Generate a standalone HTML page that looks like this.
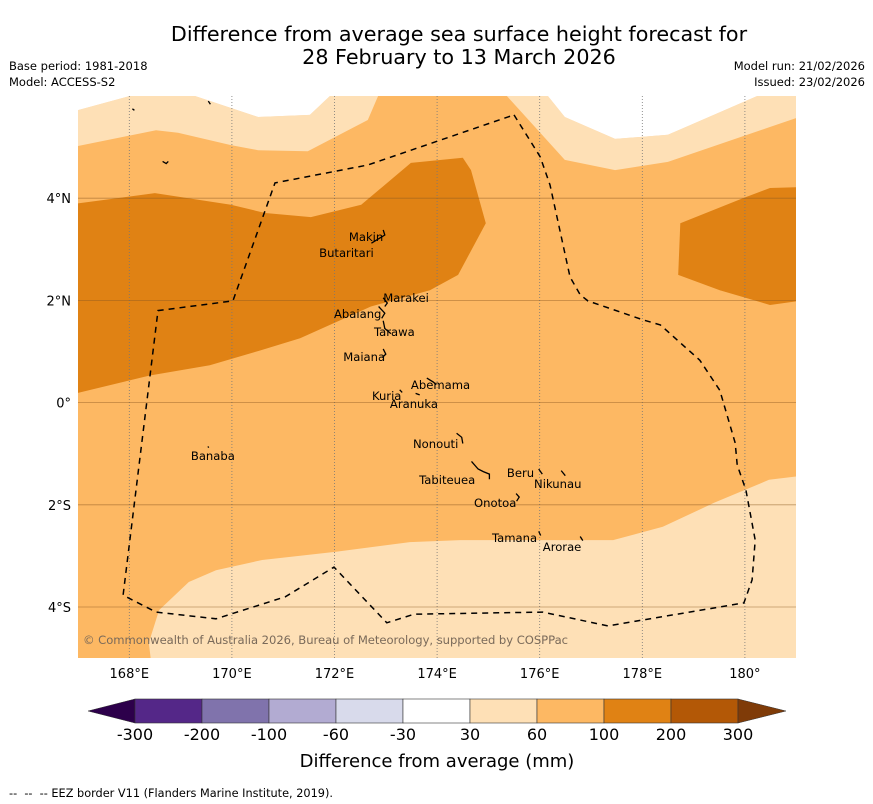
<!DOCTYPE html>
<html><head><meta charset="utf-8"><style>
body{margin:0;background:#fff;font-family:"Liberation Sans","DejaVu Sans",sans-serif}
svg{display:block}
</style></head><body>
<svg id="s" width="873" height="804" xmlns="http://www.w3.org/2000/svg" font-family="DejaVu Sans, Liberation Sans, sans-serif">
<defs><clipPath id="mc"><rect x="78" y="96" width="718" height="562"/></clipPath></defs>
<text x="459" y="41" text-anchor="middle" font-size="20.7">Difference from average sea surface height forecast for</text>
<text x="459" y="64" text-anchor="middle" font-size="20.7">28 February to 13 March 2026</text>
<text x="9" y="70" font-size="11.5">Base period: 1981-2018</text>
<text x="9" y="86" font-size="11.5">Model: ACCESS-S2</text>
<text x="865" y="70" text-anchor="end" font-size="11.5">Model run: 21/02/2026</text>
<text x="865" y="86" text-anchor="end" font-size="11.5">Issued: 23/02/2026</text>
<g id="map" clip-path="url(#mc)"></g>
<g id="axes"></g>
<g id="cbar"></g>
<text x="437" y="767" text-anchor="middle" font-size="18">Difference from average (mm)</text>
<text x="9" y="797" font-size="11.3" xml:space="preserve" style="white-space:pre">--  --  -- EEZ border V11 (Flanders Marine Institute, 2019).</text>
</svg>
<script>
const lonTicks=[168,170,172,174,176,178,180];
const lonLabels=["168°E","170°E","172°E","174°E","176°E","178°E","180°"];
const latTicks=[4,2,0,-2,-4];
const latLabels=["4°N","2°N","0°","2°S","4°S"];
const whiteTL=[[166.8,5.67],[168.01,6.0],[168.01,6.3],[166.8,6.3]];
const whiteTop=[[169.28,6.0],[170.51,5.59],[171.52,5.63],[171.91,6.0],[171.91,6.3],[169.28,6.3]];
const whiteTR=[[176.16,6.0],[176.49,5.59],[177.47,5.16],[178.5,5.24],[180.24,6.0],[180.24,6.3],[176.16,6.3]];
const lightTL=[[166.8,5.67],[168.01,6.0],[169.28,6.0],[170.51,5.59],[171.52,5.63],[171.91,6.0],[172.85,6.0],[172.65,5.53],[171.48,4.92],[170.51,4.94],[169.98,5.04],[168.95,5.28],[168.52,5.33],[166.8,4.98]];
const lightTR=[[175.36,6.0],[176.16,6.0],[176.49,5.59],[177.47,5.16],[178.5,5.24],[180.24,6.0],[181.2,6.0],[181.2,5.57],[181,5.57],[178.5,4.71],[177.47,4.55],[176.49,4.75]];
const lightBottom=[[168.44,-5.2],[168.38,-4.70],[168.58,-4.06],[169.16,-3.51],[169.69,-3.28],[170.59,-3.08],[172.03,-2.92],[173.47,-2.73],[174.45,-2.69],[177.43,-2.69],[178.4,-2.43],[179.4,-1.96],[180.47,-1.51],[181.2,-1.42],[181.2,-5.2]];
const darkMain=[[166.8,3.87],[168.5,4.10],[169.98,3.87],[170.65,3.71],[171.54,3.63],[172.52,3.87],[173.49,4.69],[174.5,4.79],[174.66,4.55],[174.95,3.51],[174.41,2.50],[173.86,2.20],[172.71,1.88],[171.33,1.26],[170.55,1.02],[169.57,0.73],[168.4,0.53],[166.8,0.14]];
const darkRight=[[178.74,3.51],[179.96,4.0],[180.49,4.20],[181.2,4.22],[181.2,2.01],[180.49,1.91],[179.51,2.2],[178.7,2.5]];
const eez=[[175.5,5.63],[176.01,4.81],[176.2,4.26],[176.59,2.46],[176.79,2.11],[176.94,1.99],[178.01,1.62],[178.35,1.52],[179.12,0.83],[179.51,0.24],[179.81,-0.79],[179.85,-1.22],[180.02,-1.71],[180.2,-2.69],[180.14,-3.47],[179.98,-3.92],[177.33,-4.37],[176.06,-4.10],[173.55,-4.14],[173.02,-4.31],[171.99,-3.22],[171.04,-3.80],[169.69,-4.23],[168.52,-4.10],[167.88,-3.77],[168.56,1.80],[170.02,1.99],[170.84,4.30],[172.65,4.65],[175.5,5.63]];
const islandNames=["Makin","Butaritari","Marakei","Abaiang","Tarawa","Maiana","Abemama","Kuria","Aranuka","Nonouti","Banaba","Beru","Tabiteuea","Nikunau","Onotoa","Tamana","Arorae"];
const islandLon=[172.28,171.70,172.95,171.99,172.77,172.17,173.49,172.73,173.08,173.53,169.20,175.36,173.65,175.89,174.72,175.07,176.06];
const islandLat=[3.16,2.85,1.97,1.66,1.30,0.81,0.27,0.05,-0.11,-0.89,-1.12,-1.46,-1.59,-1.67,-2.04,-2.73,-2.90];
const islandShapes=[
 [[172.95,3.38],[172.98,3.28],[172.85,3.2],[172.72,3.12]],
 [[172.95,2.05],[173.03,1.95],[172.98,1.88]],
 [[172.86,1.88],[172.98,1.75],[172.92,1.65]],
 [[172.95,1.6],[172.98,1.45],[173.1,1.35]],
 [[172.95,1.05],[173.0,0.95],[172.93,0.88]],
 [[173.8,0.48],[173.93,0.4],[173.98,0.35]],
 [[173.27,0.25],[173.32,0.2]],
 [[173.58,0.18],[173.66,0.15]],
 [[174.38,-0.6],[174.48,-0.68],[174.5,-0.8]],
 [[174.67,-1.15],[174.8,-1.3],[174.9,-1.35],[175.02,-1.4],[175.02,-1.5]],
 [[175.98,-1.3],[176.05,-1.4]],
 [[176.42,-1.33],[176.5,-1.43]],
 [[175.54,-1.78],[175.6,-1.85],[175.55,-1.93]],
 [[175.98,-2.52],[176.02,-2.6]],
 [[176.79,-2.62],[176.84,-2.7]],
 [[169.53,-0.86],[169.55,-0.88]],
 [[169.54,5.9],[169.58,5.84]],
 [[168.06,5.75],[168.1,5.72]],
 [[168.65,4.72],[168.72,4.68],[168.76,4.72]]
];
const cbLevels=["-300","-200","-100","-60","-30","30","60","100","200","300"];
const cbColors=["#542788","#8073ac","#b2abd2","#d8daeb","#ffffff","#fee0b6","#fdb863","#e08214","#b35806"];

const NS="http://www.w3.org/2000/svg";
const px=lon=>78+(lon-167)*51.3;
const py=lat=>96+(6-lat)*51.1;
function mk(tag,parent,attrs){const e=document.createElementNS(NS,tag);for(const k in attrs)e.setAttribute(k,attrs[k]);parent.appendChild(e);return e;}
const map=document.getElementById('map');
const pts=a=>a.map(p=>px(p[0]).toFixed(1)+','+py(p[1]).toFixed(1)).join(' ');
let r=mk('rect',map,{x:78,y:96,width:718,height:562,fill:'#fdb863'});


function poly(a,fill,name){const e=mk('polygon',map,{points:pts(a),fill:fill});

}
poly(lightTL,'#fee0b6','contour-30-60-northwest');
poly(lightTR,'#fee0b6','contour-30-60-northeast');
poly(whiteTL,'#ffffff','contour-neutral-northwest');
poly(whiteTop,'#ffffff','contour-neutral-north');
poly(whiteTR,'#ffffff','contour-neutral-northeast');
poly(lightBottom,'#fee0b6','contour-30-60-south');
poly(darkMain,'#e08214','contour-100-200-west');
poly(darkRight,'#e08214','contour-100-200-east');
lonTicks.forEach(l=>{const e=mk('line',map,{x1:px(l),x2:px(l),y1:96,y2:658,stroke:'#777',"stroke-width":0.8,"stroke-dasharray":"1,2"});

});
latTicks.forEach(l=>{const e=mk('line',map,{x1:78,x2:796,y1:py(l),y2:py(l),stroke:'#8a5a20',"stroke-opacity":0.55,"stroke-width":0.8});

});
const ez=mk('polyline',map,{points:pts(eez),fill:'none',stroke:'#000',"stroke-width":1.5,"stroke-dasharray":"6,5"});


islandShapes.forEach(s=>{const e=mk('polyline',map,{points:pts(s),fill:'none',stroke:'#000',"stroke-width":1.3});

});
islandNames.forEach((n,i)=>{const t=mk('text',map,{x:px(islandLon[i]),y:py(islandLat[i]),"font-size":11.6,fill:'#000'});t.textContent=n;

});
const cp=mk('text',map,{x:83,y:644,"font-size":11.6,fill:'#7a6a5a',textLength:485});cp.textContent='© Commonwealth of Australia 2026, Bureau of Meteorology, supported by COSPPac';


const ax=document.getElementById('axes');
lonTicks.forEach((l,i)=>{const t=mk('text',ax,{x:px(l),y:678,"text-anchor":"middle","font-size":13});t.textContent=lonLabels[i];

});
latTicks.forEach((l,i)=>{const t=mk('text',ax,{x:71,y:py(l)+5,"text-anchor":"end","font-size":13});t.textContent=latLabels[i];

});
const cb=document.getElementById('cbar');
const cx0=135,cw=67,cy=699,ch=24;
let tl=mk('polygon',cb,{points:`${cx0},${cy} ${cx0},${cy+ch} 88,${cy+ch/2}`,fill:'#2d004b',stroke:'#333',"stroke-width":0.5});


cbColors.forEach((c,i)=>{const e=mk('rect',cb,{x:cx0+i*cw,y:cy,width:cw,height:ch,fill:c,stroke:'#333',"stroke-width":0.6});

});
const ce=cx0+cbColors.length*cw;
let tr=mk('polygon',cb,{points:`${ce},${cy} ${ce},${cy+ch} 786,${cy+ch/2}`,fill:'#7f3b08',stroke:'#333',"stroke-width":0.5});


cbLevels.forEach((v,i)=>{const t=mk('text',cb,{x:cx0+i*cw,y:740,"text-anchor":"middle","font-size":16});t.textContent=v;

});
</script>
</body></html>
